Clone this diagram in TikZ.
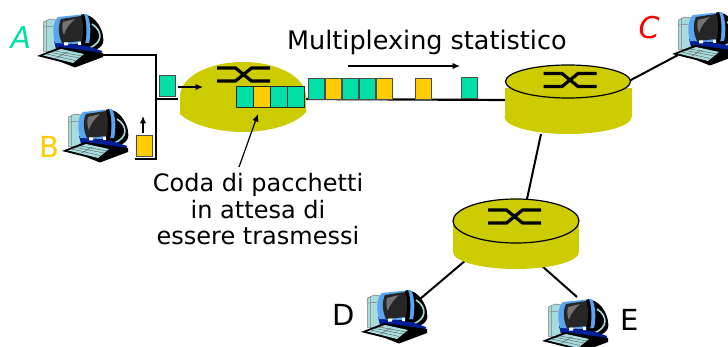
\documentclass[tikz,border=0pt]{standalone}
\usepackage{fontspec}
\setmainfont{DejaVu Sans}
\usetikzlibrary{arrows.meta}
\definecolor{pkG}{HTML}{00DFA5}
\definecolor{pkY}{HTML}{FFCC00}
\definecolor{rtr}{HTML}{CCCC00}
\definecolor{tealL}{HTML}{A8DCDC}
\definecolor{blueF}{HTML}{5AA5F0}
\definecolor{blueD}{HTML}{001E96}
\tikzset{
  link/.style={line width=2pt,black},
  thinarrow/.style={line width=1.2pt,-{Latex[length=7.5pt,width=6.5pt]}},
  pkt/.style={draw=black!70,line width=1.2pt,minimum width=16pt,minimum height=21pt,inner sep=0pt,anchor=north west},
  pktq/.style={pkt,draw=black!85,minimum width=17pt,minimum height=21pt},
  lab/.style={font=\fontsize{29}{32}\selectfont,inner sep=0pt},
  txt/.style={font=\fontsize{24}{26.5}\selectfont,inner sep=0pt,align=center},
  computer/.pic={
    % tower
    \fill[tealL,draw=black!55,line width=.5pt] (6.5,9) -- (13,6) -- (19,7) -- (19,38) -- (6.5,39) -- cycle;
    \draw[black!50,line width=.5pt] (9.5,8) -- (9.5,38) (6.5,14) -- (18,13);
    % monitor back
    \fill[black] (50,2) .. controls (60,5) and (66,18) .. (66,24) .. controls (68,32) and (62,38) .. (50,38) -- (30,36) -- cycle;
    \draw[tealL,line width=1.6pt] (55,11) .. controls (66,18) and (66,30) .. (52,35);
    % stand and base
    \fill[blueD] (17,28) -- (26,30) -- (50,33) -- (65,38) -- (64,42) -- (50,45) -- (20,40) -- cycle;
    % frame
    \fill[blueF] (18,30) .. controls (15,20) and (16,8) .. (21,4) -- (50,1) .. controls (54,8) and (54,22) .. (52,30) -- (40,31) -- cycle;
    \fill[black] (47,1) .. controls (50,8) and (50,24) .. (48,31) -- (44,31) -- (44,2) -- cycle;
    % screen
    \fill[black!85] (24,6) -- (44,3) .. controls (47,10) and (46,22) .. (45,28) -- (25,30) .. controls (21,22) and (21,12) .. (24,6) -- cycle;
    \fill[black!55] (26,9) -- (38,6) .. controls (34,10) and (29,14) .. (27,22) .. controls (25,18) and (25,13) .. (26,9) -- cycle;
    \fill[white] (27,29.5) rectangle (31,32.5) (41,29) rectangle (44,32);
    % keyboard
    \fill[black] (0,43) -- (23,34) -- (66,40) -- (66,44) -- (38,54.5) -- (24,49) -- cycle;
    \fill[tealL] (6,42.5) -- (24,36) -- (47,41) -- (36,50) -- cycle;
    \draw[black!70,line width=.35pt] (10,41) -- (38,47.5) (14,39.5) -- (42,45) (18,38) -- (45,43) (18,46) -- (30,39);
  },
  routersym/.pic={
    \draw[black,line width=3.2pt] (-26.5,-6.5) -- (-8,-6.5) -- (8,6.5) -- (26.5,6.5)
      (-26.5,6.5) -- (-8,6.5) -- (8,-6.5) -- (26.5,-6.5);
  }
}
\begin{document}
\begin{tikzpicture}[x=1pt,y=-1pt]
\useasboundingbox (0,0) rectangle (728,347);
\fill[white] (0,0) rectangle (728,347);

% computers
\pic at (37,13) {computer};
\pic at (62,108) {computer};
\pic at (672,11) {computer};
\pic at (361,289) {computer};
\pic at (542,298) {computer};

% connector ends
\coordinate (pcA) at (103,55);
\coordinate (bendA) at (156,55);
\coordinate (bendB) at (156,159);
\coordinate (endB) at (135,159);
\coordinate (busT) at (156,99);
\coordinate (busE) at (178,99);
\coordinate (r1out) at (306,99);
\coordinate (r2in) at (508,100);
\coordinate (r2c) at (629,81);
\coordinate (pcC) at (678,55);
\coordinate (r2s) at (541,134);
\coordinate (r3n) at (527,199);
\coordinate (r3d) at (466,260);
\coordinate (pcD) at (420,299);
\coordinate (r3e) at (542,266);
\coordinate (pcE) at (577,297);

\draw[black,line width=2.8pt,line cap=butt] (pcA) -- (bendA) -- (bendB) -- (endB);
\draw[black,line width=2.4pt] (busT) -- (busE);
\draw[link,line width=2.2pt] (r1out) -- (r2in);
\draw[link] (r2c) -- (pcC);
\draw[link] (r2s) -- (r3n);
\draw[link] (r3d) -- (pcD);
\draw[link] (r3e) -- (pcE);

% router 1 (no outline)
\fill[rtr] (180,97) .. controls (180,76) and (210,62) .. (243,62) .. controls (276,62) and (306,76) .. (306,97)
  -- (306,112) .. controls (296,124) and (270,132) .. (243,132) .. controls (216,132) and (190,124) .. (180,114) -- cycle;
\pic at (243.5,74.5) {routersym};

% router 2
\fill[rtr] (568,117) ellipse[x radius=63.5,y radius=17];
\fill[rtr] (505,88) rectangle (632,117);
\draw[black,line width=1.2pt,fill=rtr] (568,81.5) ellipse[x radius=62.5,y radius=16.5];
\pic at (570,80) {routersym};

% router 3
\fill[rtr] (516,252) ellipse[x radius=63,y radius=17];
\fill[rtr] (453,225) rectangle (579,252);
\draw[black,line width=1.2pt,fill=rtr] (516,221) ellipse[x radius=63,y radius=22];
\pic at (514.5,216.5) {routersym};

% packets in the queue
\node[pktq,fill=pkG] (q1) at (236,86) {};
\node[pktq,fill=pkY] (q2) at (253,86) {};
\node[pktq,fill=pkG] (q3) at (270,86) {};
\node[pktq,fill=pkG] (q4) at (287,86) {};

% incoming packets
\node[pkt,fill=pkG] (pin) at (159,75) {};
\node[pkt,fill=pkY] (pB) at (136,135) {};
\coordinate (pinE) at (178,87);
\coordinate (pinT) at (203,87);
\draw[thinarrow] (pinE) -- (pinT);
\coordinate (pBT) at (143,133);
\coordinate (pBU) at (143,116);
\draw[thinarrow] (pBT) -- (pBU);

% packets on the link
\node[pkt,fill=pkG] at (308,78) {};
\node[pkt,fill=pkY] at (325,78) {};
\node[pkt,fill=pkG] at (342,78) {};
\node[pkt,fill=pkG] at (359,78) {};
\node[pkt,fill=pkY] at (376,78) {};
\node[pkt,fill=pkY] at (415,78) {};
\node[pkt,fill=pkG] at (461,77) {};

% multiplexing arrow
\coordinate (muxA) at (348,66);
\coordinate (muxB) at (460,66);
\draw[thinarrow] (muxA) -- (muxB);

% texts
\node[txt,anchor=base west,font=\fontsize{25.5}{28}\selectfont] (mux) at (287,50) {Multiplexing statistico};
\node[txt] (coda) at (258,209.5) {Coda di pacchetti\\in attesa di\\essere trasmessi};
\coordinate (codaA) at (239,167);
\coordinate (codaB) at (258,114);
\draw[thinarrow] (codaA) -- (codaB);

\node[lab,text=pkG,font=\fontsize{30}{32}\selectfont\itshape] (lA) at (21,38) {A};
\node[lab,text=pkY] (lB) at (49,147) {B};
\node[lab,text=red,font=\fontsize{30}{32}\selectfont\itshape] (lC) at (649,28) {C};
\node[lab] (lD) at (344,315) {D};
\node[lab] (lE) at (630,320) {E};
\end{tikzpicture}
\end{document}
